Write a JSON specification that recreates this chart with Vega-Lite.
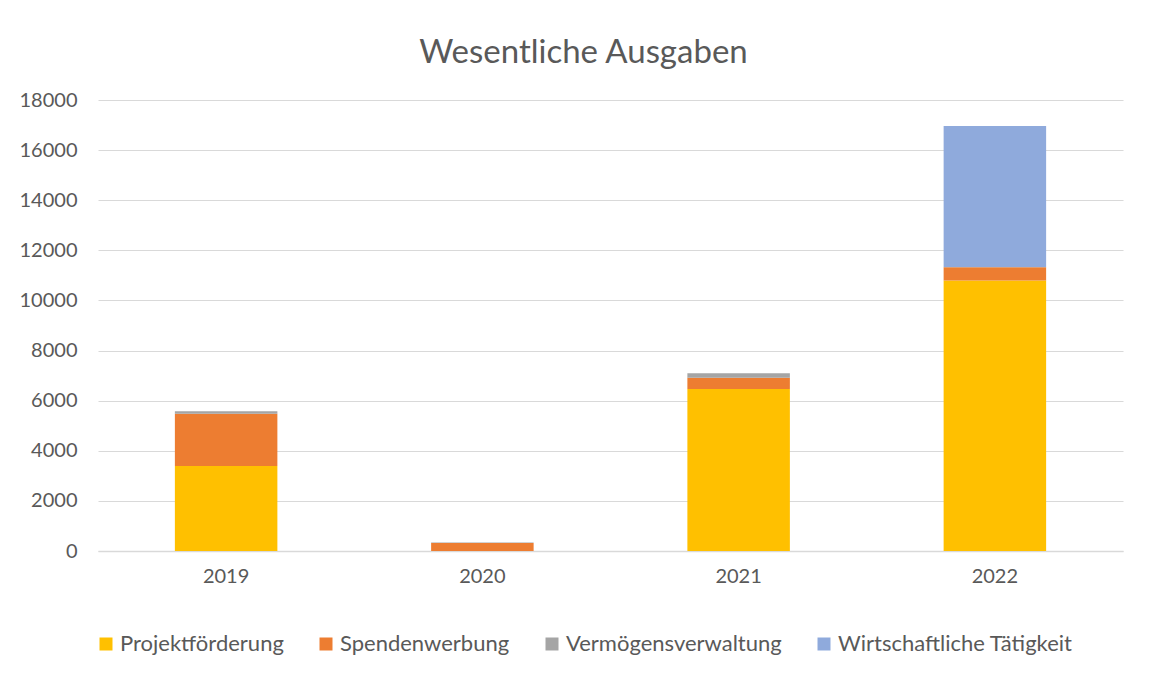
{
  "$schema": "https://vega.github.io/schema/vega-lite/v6.json",
  "width": 1025,
  "height": 451,
  "autosize": {"type": "none"},
  "padding": {"left": 98, "top": 100, "right": 29, "bottom": 124},
  "background": "white",
  "title": {
    "text": "Wesentliche Ausgaben",
    "font": "Lato",
    "fontSize": 33,
    "fontWeight": "normal",
    "color": "#595959",
    "anchor": "middle",
    "dx": -27,
    "offset": 20
  },
  "data": {
    "values": [
      {"jahr": "2019", "kategorie": "Projektförderung", "betrag": 3390},
      {"jahr": "2019", "kategorie": "Spendenwerbung", "betrag": 2090},
      {"jahr": "2019", "kategorie": "Vermögensverwaltung", "betrag": 95},
      {"jahr": "2019", "kategorie": "Wirtschaftliche Tätigkeit", "betrag": 0},
      {"jahr": "2020", "kategorie": "Projektförderung", "betrag": 0},
      {"jahr": "2020", "kategorie": "Spendenwerbung", "betrag": 320},
      {"jahr": "2020", "kategorie": "Vermögensverwaltung", "betrag": 20},
      {"jahr": "2020", "kategorie": "Wirtschaftliche Tätigkeit", "betrag": 0},
      {"jahr": "2021", "kategorie": "Projektförderung", "betrag": 6465},
      {"jahr": "2021", "kategorie": "Spendenwerbung", "betrag": 450},
      {"jahr": "2021", "kategorie": "Vermögensverwaltung", "betrag": 175},
      {"jahr": "2021", "kategorie": "Wirtschaftliche Tätigkeit", "betrag": 0},
      {"jahr": "2022", "kategorie": "Projektförderung", "betrag": 10800},
      {"jahr": "2022", "kategorie": "Spendenwerbung", "betrag": 520},
      {"jahr": "2022", "kategorie": "Vermögensverwaltung", "betrag": 10},
      {"jahr": "2022", "kategorie": "Wirtschaftliche Tätigkeit", "betrag": 5630}
    ]
  },
  "mark": {"type": "bar"},
  "encoding": {
    "x": {
      "field": "jahr",
      "type": "nominal",
      "scale": {"paddingInner": 0.6, "paddingOuter": 0.3},
      "axis": {
        "title": null,
        "labelAngle": 0,
        "labelFont": "Lato",
        "labelFontSize": 20,
        "labelColor": "#595959",
        "labelPadding": 15,
        "ticks": false,
        "domainColor": "#d9d9d9",
        "domainWidth": 1.5
      }
    },
    "y": {
      "field": "betrag",
      "type": "quantitative",
      "stack": "zero",
      "scale": {"domain": [0, 18000]},
      "axis": {
        "title": null,
        "values": [0, 2000, 4000, 6000, 8000, 10000, 12000, 14000, 16000, 18000],
        "format": "d",
        "labelFont": "Lato",
        "labelFontSize": 20,
        "labelColor": "#595959",
        "labelPadding": 21,
        "ticks": false,
        "domain": false,
        "gridColor": "#d9d9d9",
        "gridWidth": 1.2
      }
    },
    "color": {
      "field": "kategorie",
      "type": "nominal",
      "scale": {
        "domain": ["Projektförderung", "Spendenwerbung", "Vermögensverwaltung", "Wirtschaftliche Tätigkeit"],
        "range": ["#FFC000", "#ED7D31", "#A5A5A5", "#8FAADC"]
      },
      "legend": {
        "title": null,
        "orient": "none",
        "direction": "horizontal",
        "legendX": -3,
        "legendY": 533,
        "symbolType": "square",
        "symbolSize": 169,
        "symbolStrokeWidth": 0,
        "labelFont": "Lato",
        "labelFontSize": 22,
        "labelLimit": 400,
        "labelColor": "#595959",
        "labelOffset": 3,
        "columnPadding": 31
      }
    },
    "order": {"field": "kategorie", "sort": "ascending"}
  },
  "config": {
    "view": {"stroke": null}
  }
}
